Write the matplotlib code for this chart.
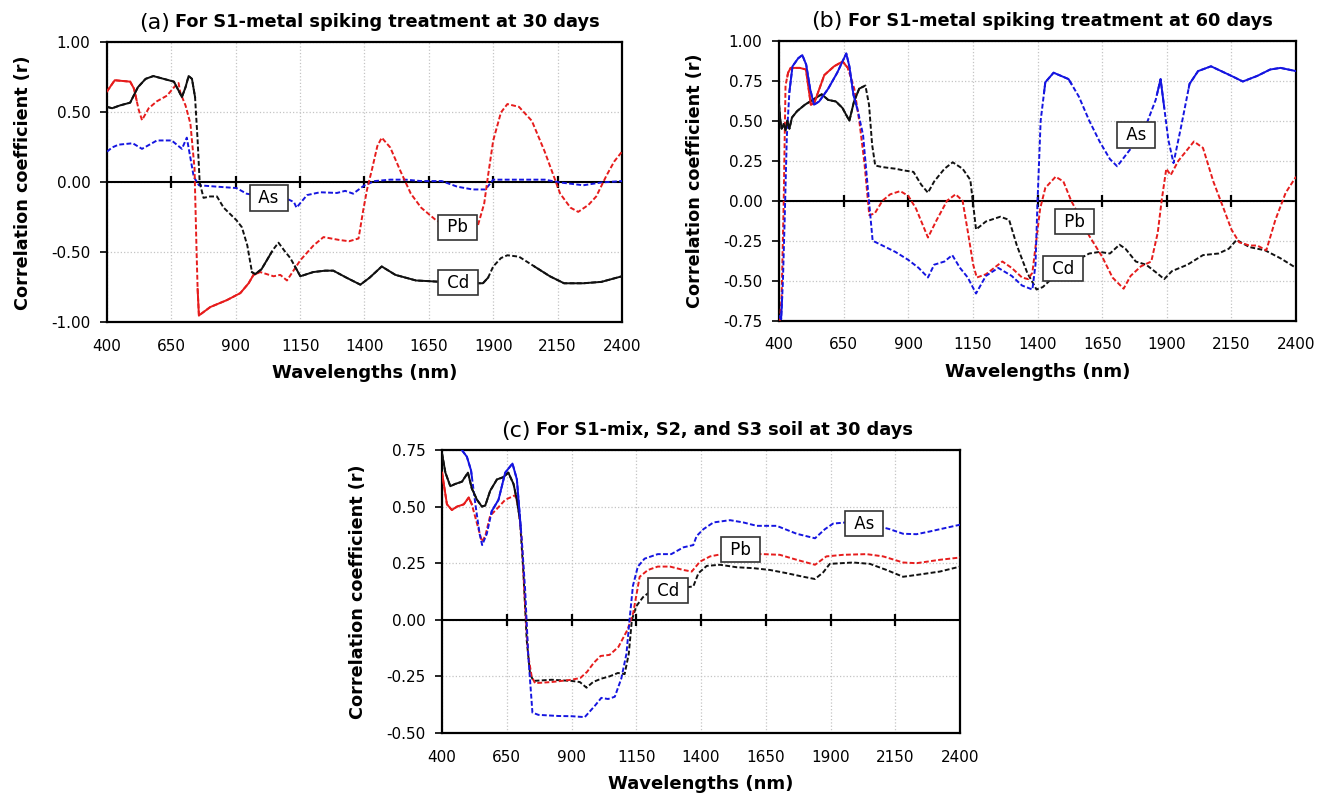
import numpy as np
import matplotlib
matplotlib.use("Agg")
import matplotlib.pyplot as plt
from matplotlib.ticker import FormatStrFormatter

# ---- data: wavelength (nm) and correlation r ----
# (a) S1 metal spiking, 30 days
a_cd_wl = [400, 420, 450, 490, 520, 550, 580, 620, 660, 691, 705, 717, 730, 742, 752, 760, 775, 800, 827, 853,
           903, 924, 945, 963, 975, 1000, 1021, 1045, 1066, 1090, 1112, 1151, 1201, 1247, 1279, 1330, 1384, 1420,
           1467, 1520, 1600, 1700, 1800, 1860, 1880, 1900, 1930, 1955, 2000, 2060, 2120, 2175, 2250, 2320, 2400]
a_cd_r = [0.54, 0.53, 0.55, 0.57, 0.68, 0.74, 0.76, 0.74, 0.72, 0.61, 0.68, 0.76, 0.74, 0.61, 0.30, 0.0, -0.11,
          -0.10, -0.10, -0.18, -0.27, -0.32, -0.45, -0.64, -0.655, -0.62, -0.555, -0.48, -0.43, -0.49, -0.54, -0.67,
          -0.64, -0.63, -0.63, -0.68, -0.73, -0.68, -0.60, -0.66, -0.70, -0.71, -0.72, -0.72, -0.68, -0.60, -0.54,
          -0.52, -0.53, -0.60, -0.67, -0.72, -0.72, -0.71, -0.67]
a_cd_sig = [(400, 742), (963, 1040), (1130, 1880), (2060, 2400)]

a_pb_wl = [400, 430, 490, 505, 523, 536, 562, 594, 633, 665, 678, 685, 705, 724, 740, 748, 752, 757, 801, 866,
           918, 950, 969, 995, 1047, 1073, 1099, 1151, 1202, 1241, 1300, 1340, 1377, 1395, 1410, 1430, 1450, 1467,
           1500, 1540, 1580, 1620, 1678, 1720, 1780, 1840, 1865, 1880, 1900, 1930, 1955, 2000, 2050, 2100, 2140,
           2160, 2200, 2230, 2270, 2300, 2340, 2370, 2400]
a_pb_r = [0.65, 0.73, 0.72, 0.67, 0.52, 0.445, 0.53, 0.58, 0.62, 0.69, 0.71, 0.64, 0.55, 0.42, 0.10, -0.50,
          -0.76, -0.95, -0.89, -0.84, -0.79, -0.72, -0.66, -0.64, -0.67, -0.66, -0.70, -0.555, -0.45, -0.39, -0.41,
          -0.42, -0.40, -0.20, -0.05, 0.10, 0.26, 0.32, 0.25, 0.08, -0.08, -0.18, -0.27, -0.31, -0.33, -0.31, -0.15,
          0.05, 0.30, 0.50, 0.56, 0.54, 0.44, 0.22, 0.02, -0.08, -0.18, -0.21, -0.16, -0.10, 0.05, 0.15, 0.22]
a_pb_sig = [(400, 515), (752, 985)]

a_as_wl = [400, 420, 445, 500, 536, 594, 651, 691, 710, 737, 757, 827, 903, 942, 1000, 1080, 1126, 1136, 1177,
           1228, 1293, 1325, 1356, 1400, 1440, 1500, 1560, 1620, 1700, 1760, 1820, 1870, 1900, 2000, 2100, 2160,
           2250, 2320, 2400]
a_as_r = [0.22, 0.25, 0.27, 0.28, 0.24, 0.30, 0.30, 0.24, 0.32, 0.04, -0.02, -0.03, -0.04, -0.08, -0.10, -0.10,
          -0.14, -0.18, -0.09, -0.07, -0.075, -0.06, -0.08, -0.02, 0.01, 0.02, 0.02, 0.01, 0.01, -0.03, -0.05,
          -0.05, 0.02, 0.02, 0.02, 0.0, -0.02, 0.0, 0.01]
a_as_sig = []

# (b) S1 metal spiking, 60 days
b_as_wl = [400, 408, 415, 422, 430, 440, 452, 474, 490, 505, 520, 535, 555, 590, 625, 660, 672, 688, 705, 725,
           745, 762, 800, 850, 900, 940, 976, 1000, 1040, 1070, 1100, 1130, 1162, 1200, 1248, 1300, 1340, 1380,
           1392, 1400, 1412, 1430, 1462, 1520, 1560, 1600, 1640, 1680, 1708, 1758, 1824, 1857, 1876, 1906, 1926,
           1955, 1988, 2021, 2071, 2150, 2194, 2250, 2300, 2340, 2400]
b_as_r = [-0.72, -0.74, -0.50, -0.10, 0.40, 0.68, 0.84, 0.89, 0.91, 0.85, 0.70, 0.60, 0.62, 0.70, 0.80, 0.92,
          0.84, 0.66, 0.56, 0.41, 0.05, -0.25, -0.28, -0.32, -0.37, -0.42, -0.48, -0.40, -0.38, -0.34, -0.42, -0.48,
          -0.58, -0.47, -0.42, -0.47, -0.53, -0.555, -0.40, 0.0, 0.50, 0.74, 0.80, 0.76, 0.65, 0.50, 0.37, 0.26,
          0.215, 0.32, 0.49, 0.63, 0.76, 0.38, 0.235, 0.46, 0.73, 0.81, 0.84, 0.78, 0.745, 0.78, 0.82, 0.83, 0.81]
b_as_sig = [(400, 412), (440, 700), (1425, 1530), (1862, 1890), (1985, 2400)]

b_pb_wl = [403, 410, 418, 425, 435, 445, 460, 480, 504, 523, 536, 575, 613, 646, 666, 691, 711, 730, 749, 770,
           800, 830, 869, 900, 930, 976, 1010, 1050, 1083, 1110, 1132, 1151, 1165, 1200, 1264, 1300, 1340, 1363,
           1380, 1395, 1410, 1430, 1470, 1500, 1530, 1570, 1600, 1650, 1690, 1733, 1760, 1800, 1840, 1865, 1880,
           1898, 1915, 1945, 2005, 2040, 2080, 2120, 2150, 2180, 2220, 2250, 2285, 2320, 2360, 2400]
b_pb_r = [-0.75, -0.60, 0.0, 0.72, 0.80, 0.83, 0.83, 0.83, 0.82, 0.60, 0.61, 0.785, 0.84, 0.87, 0.83, 0.70,
          0.49, 0.24, -0.09, -0.08, 0.0, 0.04, 0.06, 0.03, -0.05, -0.23, -0.12, 0.0, 0.04, 0.0, -0.21, -0.40, -0.48,
          -0.46, -0.38, -0.42, -0.48, -0.49, -0.45, -0.25, -0.05, 0.08, 0.15, 0.12, 0.0, -0.12, -0.22, -0.35, -0.48,
          -0.55, -0.47, -0.41, -0.38, -0.20, 0.0, 0.20, 0.16, 0.25, 0.37, 0.33, 0.12, -0.05, -0.18, -0.26, -0.28,
          -0.28, -0.31, -0.12, 0.05, 0.15]
b_pb_sig = [(432, 668)]

b_cd_wl = [400, 405, 410, 418, 425, 432, 440, 450, 470, 500, 530, 565, 590, 620, 645, 672, 690, 710, 734, 748,
           760, 772, 800, 850, 880, 920, 950, 976, 1000, 1040, 1072, 1110, 1140, 1162, 1200, 1256, 1290, 1320,
           1360, 1396, 1420, 1460, 1520, 1600, 1640, 1680, 1717, 1740, 1780, 1820, 1860, 1890, 1920, 1980, 2040,
           2100, 2140, 2170, 2220, 2280, 2340, 2400]
b_cd_r = [0.60, 0.50, 0.45, 0.48, 0.44, 0.50, 0.45, 0.52, 0.56, 0.60, 0.63, 0.665, 0.63, 0.62, 0.58, 0.50, 0.62,
          0.70, 0.72, 0.60, 0.35, 0.22, 0.21, 0.20, 0.19, 0.18, 0.10, 0.05, 0.12, 0.20, 0.24, 0.20, 0.13, -0.18,
          -0.13, -0.10, -0.12, -0.28, -0.45, -0.555, -0.54, -0.48, -0.40, -0.33, -0.32, -0.33, -0.275, -0.30, -0.38,
          -0.40, -0.45, -0.49, -0.44, -0.40, -0.34, -0.33, -0.30, -0.245, -0.29, -0.31, -0.36, -0.42]
b_cd_sig = [(400, 725)]

# (c) S1-mix, S2 and S3 soil, 30 days
c_as_wl = [400, 440, 470, 496, 512, 530, 545, 555, 573, 592, 618, 644, 672, 689, 708, 721, 733, 749, 772, 849,
           900, 951, 990, 1015, 1041, 1067, 1092, 1112, 1124, 1137, 1156, 1182, 1233, 1285, 1332, 1370, 1383, 1409,
           1448, 1512, 1563, 1615, 1692, 1769, 1840, 1878, 1910, 1960, 2030, 2129, 2180, 2232, 2283, 2322, 2400]
c_as_r = [0.77, 0.76, 0.76, 0.72, 0.66, 0.50, 0.38, 0.33, 0.38, 0.48, 0.53, 0.65, 0.69, 0.62, 0.35, 0.13, -0.16,
          -0.41, -0.42, -0.425, -0.426, -0.43, -0.38, -0.345, -0.35, -0.34, -0.26, -0.15, 0.0, 0.15, 0.235, 0.27,
          0.29, 0.29, 0.32, 0.33, 0.37, 0.40, 0.43, 0.44, 0.43, 0.415, 0.415, 0.38, 0.36, 0.40, 0.425, 0.43, 0.43,
          0.40, 0.38, 0.378, 0.39, 0.40, 0.42]
c_as_sig = [(400, 515), (590, 705)]

c_pb_wl = [400, 419, 438, 458, 484, 503, 515, 541, 554, 567, 586, 612, 644, 663, 682, 695, 708, 721, 733, 746,
           759, 823, 900, 934, 960, 986, 1012, 1047, 1081, 1116, 1138, 1163, 1195, 1233, 1280, 1332, 1364, 1396,
           1435, 1480, 1560, 1640, 1704, 1769, 1840, 1884, 1949, 2039, 2103, 2180, 2232, 2322, 2400]
c_pb_r = [0.65, 0.51, 0.485, 0.50, 0.51, 0.54, 0.51, 0.40, 0.345, 0.37, 0.46, 0.49, 0.53, 0.54, 0.55, 0.50, 0.35,
          0.06, -0.16, -0.25, -0.28, -0.275, -0.265, -0.257, -0.23, -0.19, -0.16, -0.155, -0.12, -0.044, 0.03,
          0.19, 0.22, 0.235, 0.235, 0.22, 0.213, 0.257, 0.28, 0.29, 0.29, 0.29, 0.287, 0.265, 0.243, 0.28, 0.287,
          0.29, 0.28, 0.253, 0.25, 0.265, 0.275]
c_pb_sig = [(400, 515)]

c_cd_wl = [400, 413, 432, 451, 477, 500, 515, 535, 554, 567, 586, 612, 637, 656, 676, 689, 701, 714, 727, 740,
           753, 823, 900, 932, 958, 983, 1015, 1047, 1079, 1105, 1121, 1133, 1150, 1176, 1210, 1260, 1310, 1370,
           1390, 1422, 1473, 1538, 1602, 1666, 1730, 1795, 1840, 1872, 1897, 1987, 2052, 2116, 2180, 2244, 2322,
           2400]
c_cd_r = [0.735, 0.65, 0.59, 0.60, 0.61, 0.65, 0.58, 0.53, 0.50, 0.505, 0.57, 0.62, 0.63, 0.65, 0.60, 0.53,
          0.44, 0.21, -0.09, -0.24, -0.27, -0.265, -0.27, -0.275, -0.30, -0.275, -0.26, -0.25, -0.235, -0.24,
          -0.15, 0.0, 0.06, 0.10, 0.13, 0.13, 0.14, 0.147, 0.206, 0.238, 0.243, 0.232, 0.228, 0.22, 0.206, 0.19,
          0.18, 0.21, 0.247, 0.253, 0.247, 0.22, 0.19, 0.20, 0.213, 0.235]
c_cd_sig = [(400, 700)]

wl_ticks = [400, 650, 900, 1150, 1400, 1650, 1900, 2150, 2400]

panels = [
    dict(tag="(a)", title="For S1-metal spiking treatment at 30 days", ylim=(-1.0, 1.0), ystep=0.5,
         series=[(a_as_wl, a_as_r, a_as_sig, "As"), (a_pb_wl, a_pb_r, a_pb_sig, "Pb"),
                 (a_cd_wl, a_cd_r, a_cd_sig, "Cd")],
         labels=[("As", 1028, -0.11), ("Pb", 1761, -0.32), ("Cd", 1763, -0.715)]),
    dict(tag="(b)", title="For S1-metal spiking treatment at 60 days", ylim=(-0.75, 1.0), ystep=0.25,
         series=[(b_cd_wl, b_cd_r, b_cd_sig, "Cd"), (b_pb_wl, b_pb_r, b_pb_sig, "Pb"),
                 (b_as_wl, b_as_r, b_as_sig, "As")],
         labels=[("As", 1782, 0.41), ("Pb", 1543, -0.13), ("Cd", 1498, -0.425)]),
    dict(tag="(c)", title="For S1-mix, S2, and S3 soil at 30 days", ylim=(-0.5, 0.75), ystep=0.25,
         series=[(c_cd_wl, c_cd_r, c_cd_sig, "Cd"), (c_pb_wl, c_pb_r, c_pb_sig, "Pb"),
                 (c_as_wl, c_as_r, c_as_sig, "As")],
         labels=[("As", 2029, 0.425), ("Pb", 1552, 0.31), ("Cd", 1272, 0.128)]),
]

colors = {"As": "#1515e0", "Pb": "#e61c1c", "Cd": "#111111"}
dash = (0, (2.5, 1.2))


def draw_series(ax, wl, r, sig, color):
    wl = np.asarray(wl, float)
    r = np.asarray(r, float)
    ax.plot(wl, r, color=color, lw=1.4, ls=dash, zorder=3)
    # significant parts drawn solid
    for lo, hi in sig:
        xs = np.concatenate([[lo], wl[(wl > lo) & (wl < hi)], [hi]])
        ax.plot(xs, np.interp(xs, wl, r), color=color, lw=1.4, zorder=3.5)


fig = plt.figure(figsize=(13.29, 7.98), dpi=100)
rects = [[0.0805, 0.5959, 0.3875, 0.3509],
         [0.5862, 0.5981, 0.3890, 0.3509],
         [0.3326, 0.0815, 0.3898, 0.3546]]

for p, rect in zip(panels, rects):
    ax = fig.add_axes(rect)
    for wl, r, sig, name in p["series"]:
        draw_series(ax, wl, r, sig, colors[name])

    lo, hi = p["ylim"]
    ax.set_xlim(400, 2400)
    ax.set_ylim(lo, hi)
    ax.set_xticks(wl_ticks)
    ax.set_yticks(np.arange(lo, hi + 1e-9, p["ystep"]))
    ax.yaxis.set_major_formatter(FormatStrFormatter("%.2f"))
    ax.grid(True, color="#c4c4c4", ls=":", lw=0.9, zorder=0)
    ax.set_axisbelow(True)
    ax.tick_params(axis="x", length=0, pad=12, labelsize=11)
    ax.tick_params(axis="y", length=5, width=1.2, pad=7, labelsize=11, direction="out")
    for s in ax.spines.values():
        s.set_linewidth(1.6)
        s.set_color("black")

    # zero line with crossing tick marks
    ax.axhline(0, color="black", lw=1.5, zorder=2.5)
    ax.plot(wl_ticks[1:-1], np.zeros(len(wl_ticks) - 2), ls="none", marker="|",
            ms=9, mew=1.6, color="black", zorder=2.6)

    ax.set_xlabel("Wavelengths (nm)", fontsize=13, fontweight="bold")
    ax.set_ylabel("Correlation coefficient (r)", fontsize=12.7, fontweight="bold")
    ax.xaxis.set_label_coords(0.5, -0.15)
    ax.yaxis.set_label_coords(-0.145, 0.5)

    for text, x, y in p["labels"]:
        ax.text(x, y, " " + text + " ", ha="center", va="center", fontsize=12, zorder=6,
                bbox=dict(boxstyle="square,pad=0.22", fc="white", ec="#333333", lw=1.2))

    t = ax.text(0.545, 1.072, p["title"], transform=ax.transAxes, ha="center", va="center",
                fontsize=12.8, fontweight="bold")
    ax.annotate(p["tag"], xy=(0, 0.45), xycoords=t, xytext=(-4, 0), textcoords="offset points",
                ha="right", va="center", fontsize=16)

fig.savefig("out.png", dpi=100)
